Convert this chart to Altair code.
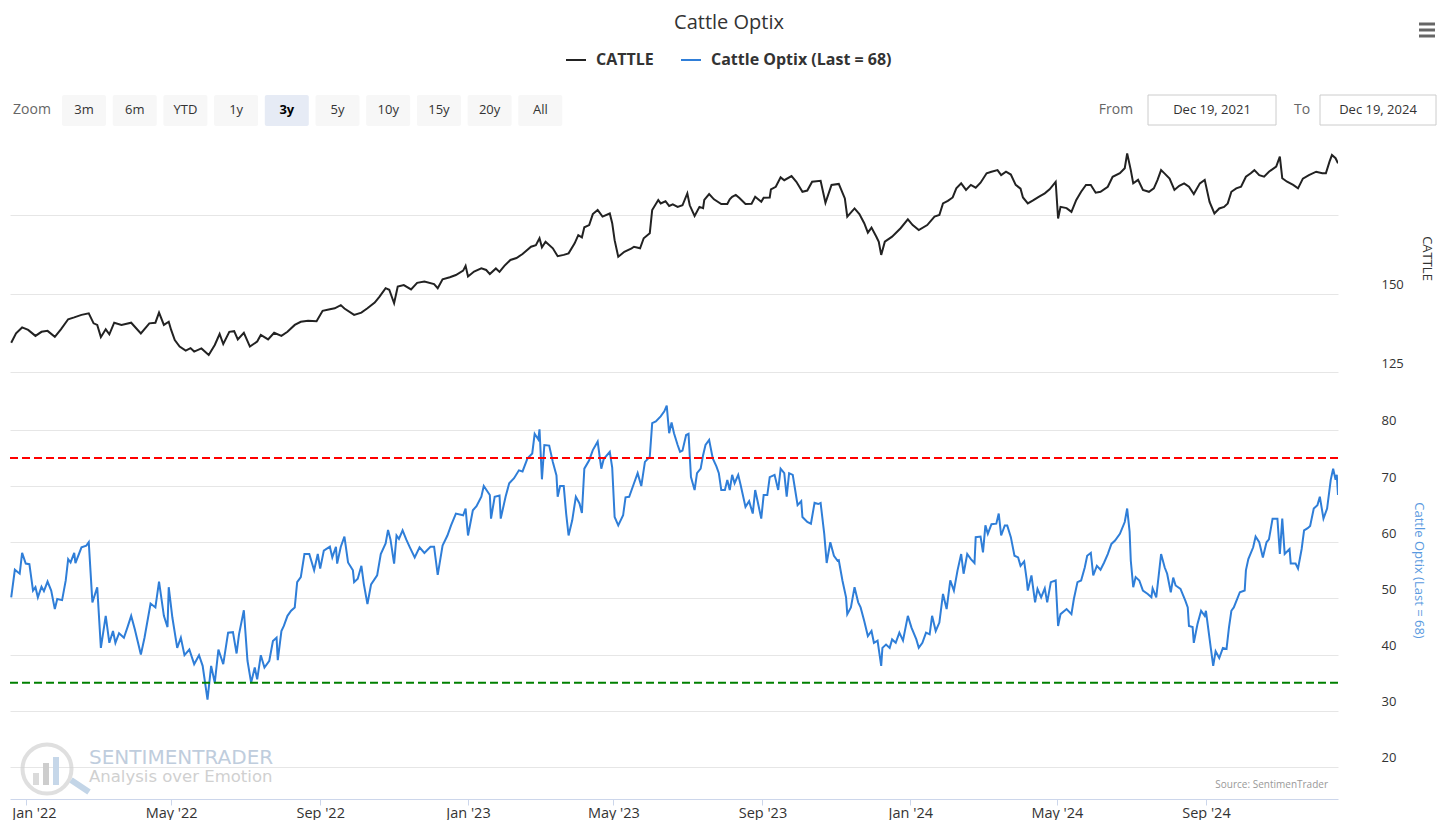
import altair as alt
import pandas as pd

# ---------------- data ----------------
START = pd.Timestamp("2021-12-19")   # first day shown

# CATTLE series: days since START and price
cattle_days = [
    1, 5, 10, 15, 21, 26, 31, 37, 42, 48,
    53, 59, 65, 69, 72, 75, 79, 82, 86, 92,
    100, 108, 115, 120, 123, 127, 131, 133, 136, 140,
    145, 149, 152, 158, 164, 169, 173, 176, 181, 185,
    188, 193, 198, 204, 207, 213, 218, 224, 229, 235,
    240, 246, 253, 258, 264, 268, 273, 276, 284, 290,
    295, 301, 305, 310, 313, 317, 320, 325, 331, 336,
    342, 350, 353, 357, 363, 368, 374, 376, 378, 383,
    389, 393, 396, 401, 404, 408, 413, 418, 423, 430,
    434, 437, 439, 442, 448, 452, 457, 461, 466, 469,
    472, 474, 478, 481, 485, 489, 495, 497, 499, 502,
    507, 513, 515, 520, 523, 528, 530, 535, 537, 541,
    544, 547, 551, 555, 559, 561, 565, 569, 572, 573,
    577, 581, 587, 592, 594, 596, 599, 602, 607, 612,
    615, 620, 622, 627, 628, 632, 636, 639, 645, 649,
    654, 658, 662, 669, 673, 678, 684, 689, 691, 697,
    701, 705, 708, 711, 715, 717, 719, 722, 728, 735,
    741, 745, 750, 757, 763, 767, 770, 774, 778, 781,
    785, 789, 793, 797, 801, 806, 810, 815, 818, 822,
    826, 830, 834, 836, 840, 844, 849, 854, 858, 863,
    865, 867, 872, 876, 880, 884, 888, 892, 896, 900,
    906, 910, 916, 920, 922, 925, 927, 931, 935, 940,
    944, 947, 950, 953, 957, 961, 965, 969, 973, 977,
    982, 986, 990, 994, 998, 1002, 1005, 1008, 1012, 1016,
    1020, 1024, 1027, 1031, 1035, 1039, 1045, 1048, 1050, 1054,
    1059, 1063, 1067, 1072, 1078, 1083, 1086, 1089, 1091, 1094,
    1096,
]
cattle_vals = [
    134.3, 137.3, 139.2, 138.4, 136.5, 137.8, 138.1, 136.2, 138.6, 141.8,
    142.4, 143.2, 143.7, 140.5, 140.0, 136.1, 138.6, 137.0, 140.7, 140.0,
    140.7, 137.3, 140.5, 140.7, 143.9, 140.0, 141.0, 138.4, 135.2, 133.1,
    131.8, 132.6, 131.5, 132.5, 130.4, 133.6, 137.1, 133.9, 137.8, 138.0,
    135.4, 137.5, 133.1, 134.7, 136.8, 135.4, 137.5, 136.5, 137.8, 140.0,
    141.0, 141.3, 141.2, 144.5, 145.0, 145.3, 146.3, 145.2, 143.2, 143.9,
    145.3, 147.1, 149.0, 151.7, 151.2, 146.9, 152.2, 152.7, 151.3, 153.4,
    153.8, 153.0, 151.7, 154.5, 155.2, 155.9, 157.3, 158.8, 155.4, 157.0,
    158.0, 157.5, 156.2, 158.0, 156.9, 158.8, 160.7, 161.3, 162.6, 164.9,
    165.4, 167.6, 164.7, 166.5, 164.4, 161.9, 162.3, 162.8, 166.0, 168.6,
    167.9, 171.1, 171.8, 175.3, 176.6, 174.5, 175.5, 172.4, 167.0, 161.7,
    163.3, 164.4, 164.9, 164.4, 167.6, 169.2, 176.6, 179.8, 178.7, 179.4,
    177.9, 178.4, 177.6, 178.1, 181.9, 178.1, 174.7, 177.6, 177.2, 179.8,
    181.7, 180.0, 178.5, 178.5, 180.0, 180.8, 181.4, 180.4, 178.5, 178.6,
    180.8, 179.2, 180.5, 180.6, 183.2, 184.0, 187.0, 186.1, 187.4, 185.6,
    182.4, 182.8, 185.6, 185.9, 178.9, 184.6, 184.9, 180.3, 174.5, 177.1,
    175.3, 172.4, 169.4, 171.0, 168.1, 166.5, 162.3, 166.5, 168.1, 170.8,
    173.6, 171.8, 170.2, 171.8, 174.5, 175.0, 178.7, 179.5, 180.6, 183.5,
    185.1, 183.0, 184.6, 183.7, 185.3, 188.3, 188.8, 189.3, 187.7, 188.8,
    187.9, 184.6, 183.4, 180.6, 178.7, 179.6, 180.8, 181.9, 183.2, 185.6,
    173.9, 177.6, 177.2, 176.0, 179.8, 182.4, 184.6, 184.6, 182.1, 182.4,
    184.0, 187.2, 188.3, 189.9, 194.6, 189.3, 185.1, 186.2, 183.0, 182.4,
    183.5, 186.1, 189.3, 188.2, 186.6, 183.0, 184.3, 185.1, 184.0, 181.7,
    185.1, 186.2, 179.2, 175.5, 177.1, 177.6, 178.7, 182.4, 183.5, 184.0,
    187.2, 188.3, 189.3, 187.7, 187.2, 188.8, 190.4, 193.6, 186.7, 185.6,
    184.6, 183.5, 186.6, 187.7, 188.8, 188.3, 188.3, 192.0, 194.1, 193.1,
    191.5,
]

# Cattle Optix series: days since START and value
optix_days = [
    1, 4, 8, 10, 13, 16, 19, 21, 23, 26,
    28, 31, 34, 37, 39, 43, 46, 48, 50, 53,
    54, 59, 63, 65, 68, 72, 75, 79, 82, 85,
    87, 90, 94, 97, 100, 103, 108, 111, 116, 120,
    123, 127, 130, 131, 134, 138, 141, 144, 148, 152,
    156, 159, 163, 166, 169, 172, 176, 180, 184, 187,
    189, 193, 196, 199, 202, 204, 207, 210, 214, 217,
    220, 221, 224, 226, 229, 232, 235, 237, 240, 243,
    247, 251, 254, 256, 259, 264, 266, 269, 270, 273,
    276, 279, 283, 284, 287, 290, 292, 295, 298, 303,
    306, 310, 312, 314, 317, 319, 321, 324, 327, 330,
    334, 338, 342, 347, 350, 353, 357, 361, 364, 368,
    374, 376, 378, 382, 385, 389, 391, 396, 397, 400,
    404, 405, 409, 412, 416, 420, 423, 427, 431, 433,
    436, 437, 439, 441, 445, 448, 451, 452, 454, 457,
    459, 461, 464, 467, 470, 472, 474, 478, 481, 485,
    488, 490, 495, 497, 499, 502, 506, 508, 511, 515,
    518, 521, 524, 528, 530, 533, 537, 540, 542, 544,
    546, 548, 551, 553, 555, 558, 560, 562, 565, 567,
    570, 572, 574, 577, 580, 583, 585, 587, 590, 592,
    594, 596, 598, 601, 603, 607, 610, 613, 615, 617,
    620, 622, 625, 627, 631, 634, 636, 639, 641, 643,
    646, 648, 650, 653, 654, 658, 661, 664, 667, 669,
    672, 674, 677, 680, 683, 684, 687, 690, 691, 694,
    697, 700, 702, 705, 708, 711, 713, 716, 719, 720,
    723, 726, 728, 731, 734, 737, 741, 744, 748, 750,
    753, 756, 759, 761, 764, 767, 770, 773, 776, 779,
    782, 785, 787, 790, 793, 796, 797, 801, 803, 805,
    807, 810, 814, 816, 818, 821, 823, 826, 829, 832,
    834, 837, 839, 840, 843, 846, 848, 851, 854, 856,
    859, 863, 865, 867, 872, 876, 878, 881, 884, 887,
    889, 892, 894, 897, 900, 903, 906, 909, 912, 916,
    920, 922, 924, 925, 927, 929, 932, 935, 939, 942,
    943, 946, 950, 953, 955, 958, 960, 962, 966, 970,
    972, 973, 976, 977, 980, 983, 986, 987, 991, 993,
    995, 998, 1001, 1004, 1006, 1008, 1010, 1015, 1019, 1020,
    1022, 1026, 1028, 1031, 1034, 1037, 1039, 1042, 1046, 1048,
    1050, 1052, 1056, 1057, 1061, 1063, 1066, 1068, 1071, 1073,
    1076, 1079, 1081, 1084, 1087, 1090, 1092, 1094, 1095, 1096,
]
optix_vals = [
    50.2, 55.1, 54.4, 58.1, 56.2, 56.1, 51.4, 52.0, 50.2, 52.1,
    51.3, 53.0, 51.4, 48.1, 49.9, 49.7, 53.2, 57.0, 56.4, 58.1,
    56.3, 59.1, 59.4, 60.0, 49.3, 52.0, 41.2, 46.9, 42.1, 44.2,
    42.1, 43.8, 43.0, 44.9, 46.9, 44.5, 40.0, 43.0, 49.1, 48.4,
    53.0, 46.9, 44.9, 52.0, 46.6, 41.2, 43.0, 39.9, 40.9, 38.3,
    39.9, 38.0, 32.0, 38.0, 35.0, 40.9, 38.3, 43.9, 44.0, 40.2,
    43.6, 47.9, 38.9, 35.0, 37.7, 35.6, 39.9, 37.7, 38.9, 42.4,
    43.0, 39.0, 44.2, 45.1, 46.9, 47.8, 48.4, 52.9, 53.8, 57.9,
    57.9, 55.0, 57.9, 55.3, 58.5, 59.2, 57.3, 59.2, 56.2, 59.2,
    61.0, 56.4, 55.0, 52.9, 53.5, 55.8, 52.6, 49.0, 52.5, 54.1,
    57.9, 59.8, 62.2, 60.5, 56.2, 61.2, 60.6, 62.1, 60.5, 59.1,
    57.3, 59.1, 58.1, 59.2, 59.2, 54.2, 59.4, 61.2, 63.0, 65.1,
    64.8, 66.0, 61.2, 65.7, 66.4, 68.1, 70.0, 68.4, 64.2, 68.1,
    68.3, 64.2, 68.1, 70.5, 71.4, 72.8, 72.6, 74.9, 75.8, 79.3,
    78.3, 80.1, 71.2, 77.3, 77.2, 74.3, 71.9, 68.1, 70.0, 70.0,
    65.1, 61.2, 63.9, 68.1, 66.9, 65.2, 73.1, 74.6, 76.4, 77.9,
    73.1, 74.8, 76.1, 73.3, 64.5, 63.0, 64.8, 68.0, 68.1, 70.5,
    72.3, 70.0, 74.3, 75.2, 81.2, 81.5, 82.4, 83.3, 84.3, 79.4,
    81.3, 79.4, 77.3, 76.1, 76.3, 79.1, 79.3, 71.6, 69.3, 72.3,
    73.1, 75.5, 77.3, 78.2, 74.9, 73.5, 72.3, 69.3, 69.3, 71.1,
    69.3, 72.0, 70.5, 72.0, 70.2, 66.3, 67.3, 65.1, 69.3, 67.3,
    64.2, 68.4, 68.4, 71.6, 72.0, 69.3, 73.1, 72.3, 68.1, 72.3,
    72.0, 69.3, 66.6, 67.3, 64.5, 63.6, 63.3, 67.0, 66.8, 67.0,
    61.5, 56.3, 60.0, 57.6, 56.7, 56.8, 53.2, 50.2, 47.2, 48.4,
    52.0, 49.3, 48.4, 46.0, 43.3, 44.2, 42.1, 42.5, 38.0, 41.2,
    41.8, 41.2, 42.7, 42.1, 43.9, 42.5, 46.9, 44.8, 42.7, 41.2,
    42.1, 43.9, 43.6, 46.9, 44.2, 45.7, 50.8, 48.1, 53.2, 51.4,
    55.0, 57.9, 54.4, 57.9, 57.0, 56.3, 60.9, 61.0, 58.2, 63.0,
    61.5, 63.2, 63.3, 65.1, 61.2, 63.0, 63.0, 60.9, 57.6, 57.3,
    55.8, 56.6, 53.5, 51.4, 54.1, 49.3, 51.7, 50.2, 51.8, 49.3,
    52.9, 53.2, 45.1, 47.2, 48.1, 47.2, 49.9, 52.9, 53.2, 55.5,
    57.6, 58.1, 54.1, 55.8, 55.1, 56.4, 57.9, 59.7, 60.3, 61.5,
    63.6, 66.0, 61.9, 56.7, 52.0, 53.8, 53.2, 51.4, 50.8, 50.2,
    51.8, 50.2, 57.9, 55.5, 54.4, 51.1, 53.7, 52.3, 51.7, 49.6,
    48.4, 45.1, 44.9, 42.1, 45.4, 47.8, 46.9, 47.8, 41.2, 38.0,
    40.6, 39.4, 41.2, 41.0, 44.8, 47.8, 48.4, 51.1, 51.4, 55.0,
    57.0, 59.1, 61.0, 60.0, 57.3, 60.0, 60.5, 64.2, 64.2, 57.9,
    64.2, 57.9, 58.8, 56.2, 56.2, 55.3, 58.8, 62.1, 62.5, 62.9,
    66.0, 66.6, 68.1, 64.2, 66.0, 71.1, 73.1, 71.1, 72.0, 68.4,
]

threshold_vals = [75, 35]
threshold_colors = ["#ff0000", "#008000"]

cattle_ticks = [125, 150, 175]
optix_ticks = [20, 30, 40, 50, 60, 70, 80]
month_ticks = [(2022, 1), (2022, 5), (2022, 9), (2023, 1), (2023, 5),
               (2023, 9), (2024, 1), (2024, 5), (2024, 9)]

title_text = "Cattle Optix"
legend_labels = ["CATTLE", "Cattle Optix (Last = 68)"]
zoom_buttons = ["3m", "6m", "YTD", "1y", "3y", "5y", "10y", "15y", "20y", "All"]
selected_zoom = "3y"
range_from = "Dec 19, 2021"
range_to = "Dec 19, 2024"
source_text = "Source: SentimenTrader"
brand_text = "SENTIMENTRADER"
tagline_text = "Analysis over Emotion"

# ---------------- styling / layout ----------------
FONT = "Open Sans"
CATTLE_COLOR = "#222222"
OPTIX_COLOR = "#2f7ed8"
OPTIX_TITLE_COLOR = "#5a9ae0"
W, H_HEAD, H_TOP, H_BOT = 1328, 132, 232, 427

one = pd.DataFrame({"k": [0]})


def txt(text, x, y, size=13, color="#333333", weight="normal", align="center", font=FONT):
    return alt.Chart(one).mark_text(
        text=text, fontSize=size, color=color, fontWeight=weight,
        align=align, baseline="middle", font=font,
    ).encode(x=alt.value(x), y=alt.value(y))


def box(x, x2, y, y2, fill, stroke=None, radius=0):
    kw = dict(fill=fill, cornerRadius=radius)
    if stroke:
        kw.update(stroke=stroke, strokeWidth=1)
    return alt.Chart(one).mark_rect(**kw).encode(
        x=alt.value(x), x2=alt.value(x2), y=alt.value(y), y2=alt.value(y2))


def seg(x, x2, y, y2, color, width):
    return alt.Chart(one).mark_rule(color=color, strokeWidth=width, strokeCap="butt").encode(
        x=alt.value(x), x2=alt.value(x2), y=alt.value(y), y2=alt.value(y2))


# ---------------- header (title, legend, range selector) ----------------
head = [txt(title_text, 719, 14.5, size=20)]
head.append(seg(556, 576, 52, 52, CATTLE_COLOR, 2))
head.append(txt(legend_labels[0], 586, 52, size=16, weight="bold", align="left"))
head.append(seg(671, 691, 52, 52, OPTIX_COLOR, 2))
head.append(txt(legend_labels[1], 701, 52, size=16, weight="bold", align="left"))
head.append(txt("Zoom", 22, 102, size=14, color="#666666"))
for i, b in enumerate(zoom_buttons):
    x0 = 52 + i * 50.7
    sel = b == selected_zoom
    head.append(box(x0, x0 + 44, 87, 118, "#e6ebf5" if sel else "#f7f7f7", radius=2))
    head.append(txt(b, x0 + 22, 102, size=13,
                    color="#000000" if sel else "#333333",
                    weight="bold" if sel else "normal"))
head += [
    txt("From", 1106, 102, size=14, color="#666666"),
    box(1138, 1266, 87, 117, "#ffffff", "#cccccc"),
    txt(range_from, 1202, 102, size=13),
    txt("To", 1292, 102, size=14, color="#666666"),
    box(1310, 1426, 87, 117, "#ffffff", "#cccccc"),
    txt(range_to, 1368, 102, size=13),
]
for yy in (16, 22, 28):
    head.append(seg(1409, 1425, yy, yy, "#666666", 3))
header = alt.layer(*head).properties(width=W, height=H_HEAD)

# ---------------- shared scales / axes ----------------
x_scale = alt.Scale(domain=[alt.DateTime(year=2021, month=12, date=19),
                            alt.DateTime(year=2024, month=12, date=19)])
y_axis_common = dict(
    orient="right", grid=True, gridColor="#e6e6e6", domain=False, ticks=False,
    labelAlign="left", labelPadding=43, labelBaseline="middle", labelOffset=-9,
    labelColor="#333333", labelFontSize=13, labelFont=FONT,
    titleAngle=90, titleAlign="center", titleBaseline="middle",
    titleFontSize=13, titleFontWeight="normal", titleFont=FONT,
)

cattle_df = pd.DataFrame({"date": START + pd.to_timedelta(cattle_days, unit="D"),
                          "value": cattle_vals})
optix_df = pd.DataFrame({"date": START + pd.to_timedelta(optix_days, unit="D"),
                         "value": optix_vals})
thr_df = pd.DataFrame({"value": threshold_vals, "c": threshold_colors})

# ---------------- top panel: CATTLE ----------------
top = alt.Chart(cattle_df).mark_line(color=CATTLE_COLOR, strokeWidth=2, clip=True).encode(
    x=alt.X("date:T", scale=x_scale, axis=None),
    y=alt.Y("value:Q",
            scale=alt.Scale(domain=[125, 198.9], nice=False, zero=False),
            axis=alt.Axis(values=cattle_ticks,
                          labelExpr="datum.value == 175 ? '' : datum.label",
                          title=legend_labels[0], titleColor="#333333",
                          titleX=88, titleY=118, **y_axis_common)),
).properties(width=W, height=H_TOP)

# ---------------- bottom panel: Cattle Optix ----------------
bottom_y = alt.Y("value:Q",
                 scale=alt.Scale(domain=[14.3, 90.3], nice=False, zero=False),
                 axis=alt.Axis(values=optix_ticks, title=legend_labels[1],
                               titleColor=OPTIX_TITLE_COLOR, titleX=80, titleY=198,
                               **y_axis_common))
bottom_x = alt.X("date:T", scale=x_scale,
                 axis=alt.Axis(values=[alt.DateTime(year=y, month=m, date=1) for y, m in month_ticks],
                               format="%b '%y", grid=False, domainColor="#ccd6eb",
                               tickColor="#ccd6eb", tickSize=6, labelColor="#333333",
                               labelFontSize=14.5, labelFont=FONT, labelPadding=1,
                               labelFlush=20, labelFlushOffset=14, title=None))

watermark = [
    alt.Chart(one).mark_point(shape="circle", size=2400, filled=False, color="#d2d2d2",
                              strokeWidth=4).encode(x=alt.value(37), y=alt.value(397)),
    box(23, 29, 401, 413, "#dadada"),
    box(33, 39, 391, 413, "#cdcdcd"),
    box(43, 49, 385, 413, "#c6d7e9"),
    seg(61, 79, 408, 420, "#c3d5e7", 6),
    txt(brand_text, 79, 386, size=20, color="#bfcddd", align="left", font="DejaVu Sans"),
    txt(tagline_text, 79, 405, size=16.5, color="#d0d0d0", align="left",
        font="DejaVu Sans"),
]

optix_line = alt.Chart(optix_df).mark_line(color=OPTIX_COLOR, strokeWidth=2, clip=True).encode(
    x=bottom_x, y=bottom_y)
rules = alt.Chart(thr_df).mark_rule(strokeDash=[8, 4], strokeWidth=2).encode(
    y=bottom_y, color=alt.Color("c:N", scale=None))
source = txt(source_text, 1318, 413, size=10, color="#999999", align="right")

bottom = alt.layer(*watermark, optix_line, rules, source).properties(width=W, height=H_BOT)

chart = alt.vconcat(header, top, bottom, spacing=0).properties(
    padding={"left": 1, "top": 0, "right": 0, "bottom": 0}
).configure(font=FONT).configure_view(stroke=None)

chart.save("out.html", embed_options={"renderer": "svg", "actions": False})
